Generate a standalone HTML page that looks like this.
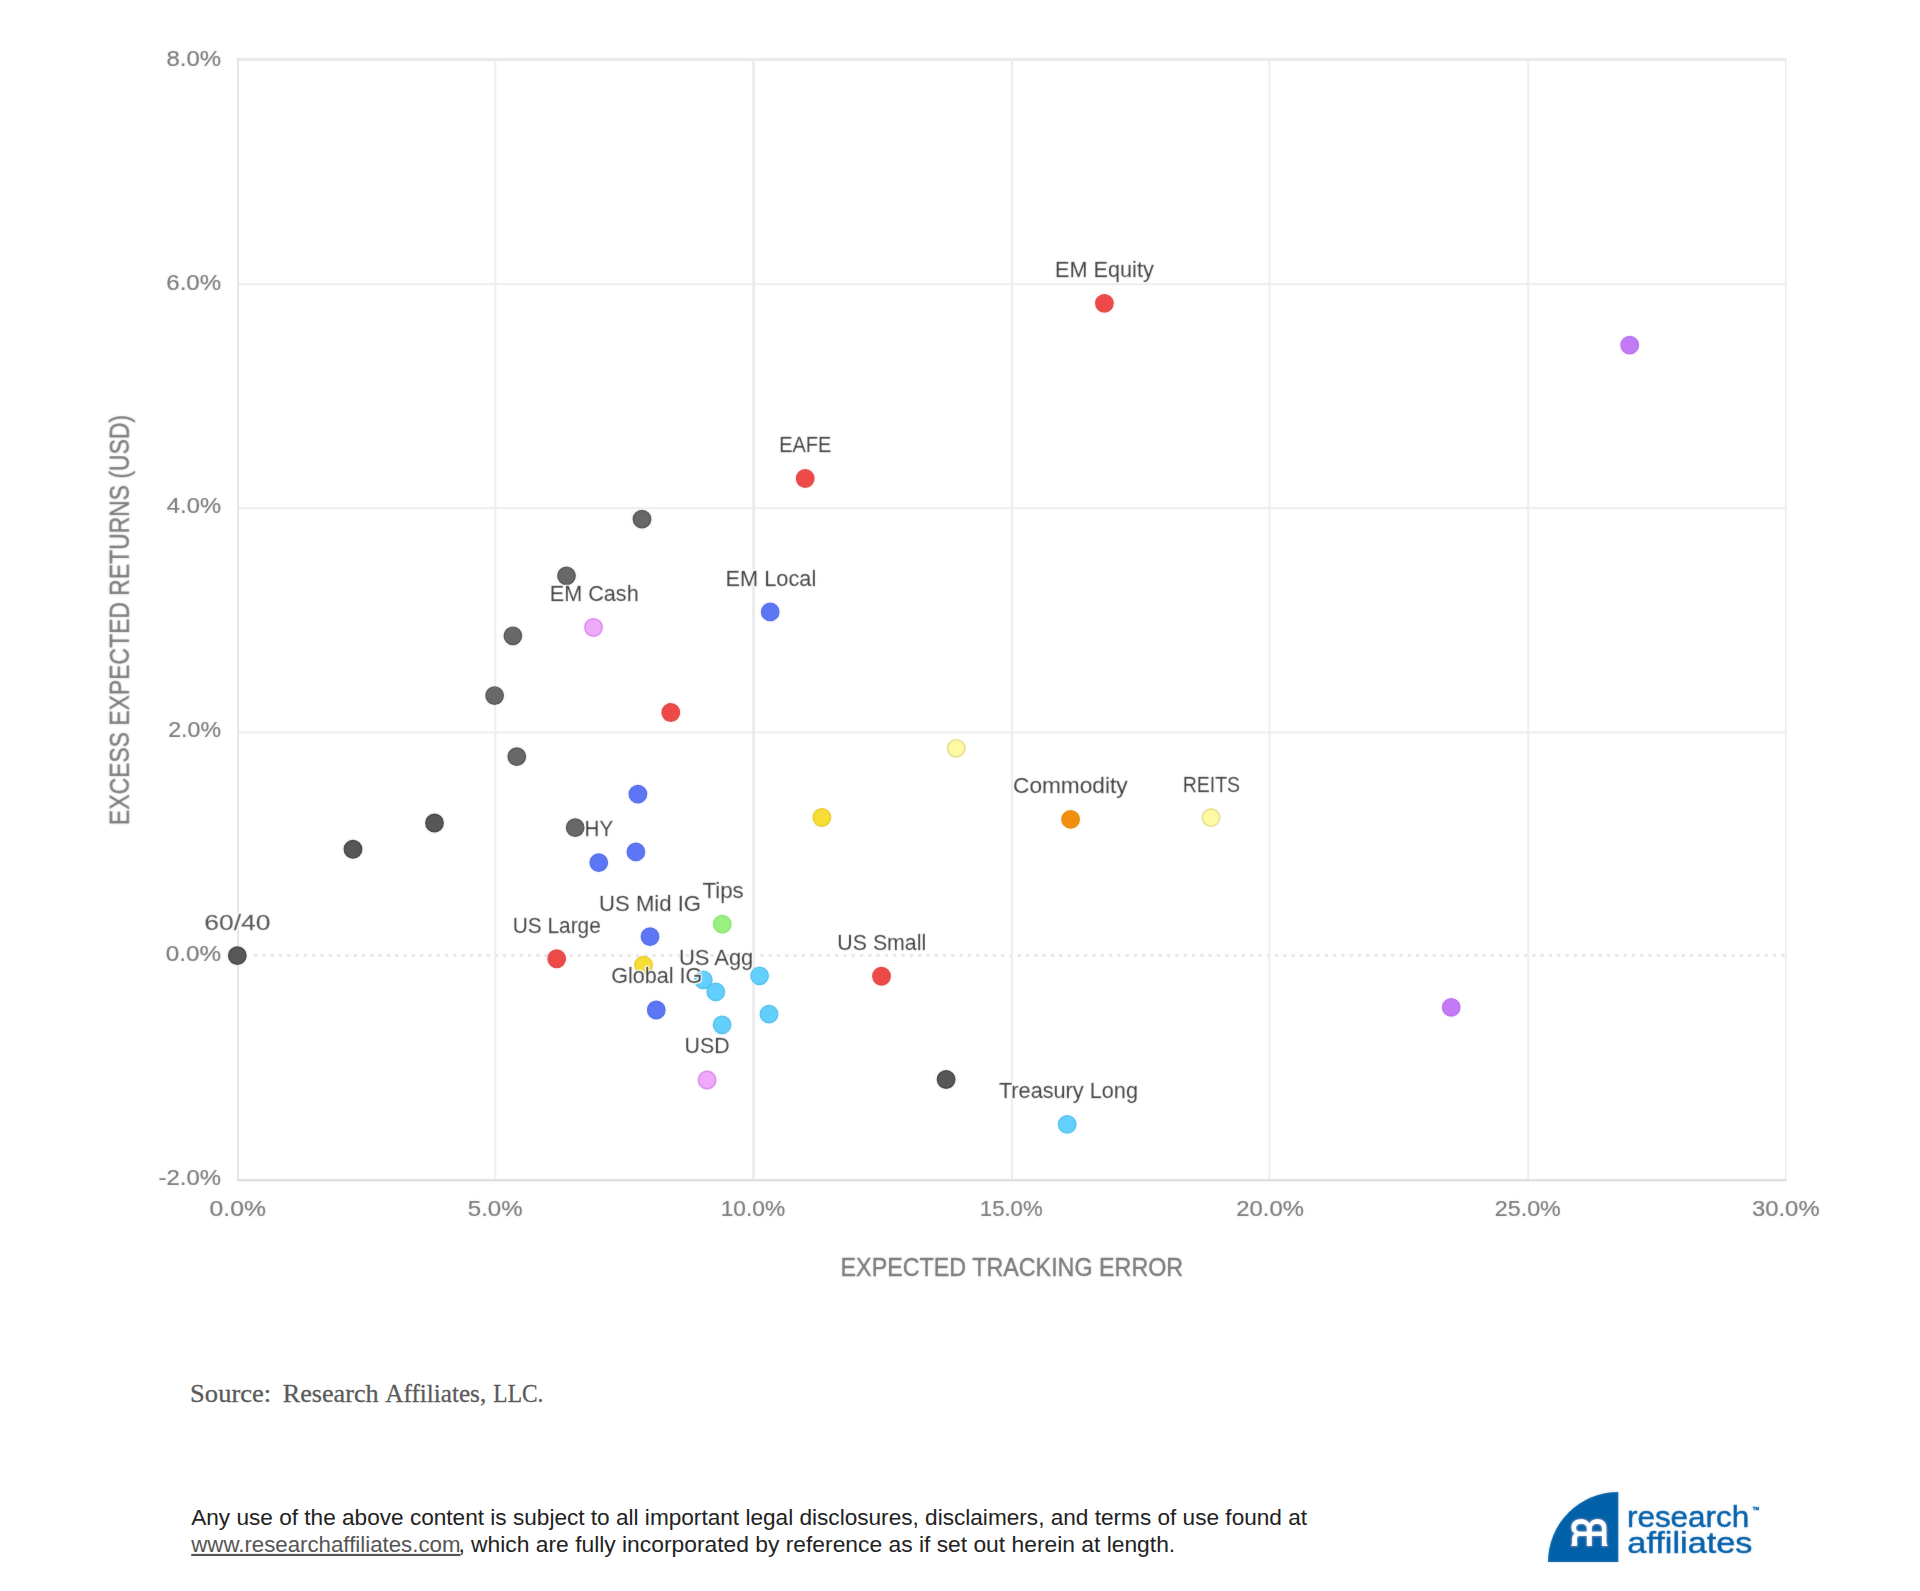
<!DOCTYPE html>
<html><head><meta charset="utf-8"><title>Excess Expected Returns vs Expected Tracking Error</title>
<style>html,body{margin:0;padding:0;background:#fff}svg{display:block}text{white-space:pre}</style>
</head><body>
<svg width="1920" height="1591" viewBox="0 0 1920 1591">
<rect width="1920" height="1591" fill="#fff"/>
<defs>
<filter id="halo" x="-10%" y="-40%" width="120%" height="180%"><feMorphology in="SourceAlpha" operator="dilate" radius="1" result="d"/><feFlood flood-color="#fff"/><feComposite in2="d" operator="in" result="h"/><feMerge><feMergeNode in="h"/><feMergeNode in="SourceGraphic"/></feMerge></filter>
<filter id="soft" filterUnits="userSpaceOnUse" x="0" y="0" width="1920" height="1340"><feGaussianBlur stdDeviation="0.8" result="b"/><feComposite in="SourceGraphic" in2="b" operator="arithmetic" k1="0" k2="0.75" k3="0.25" k4="0"/></filter>
<filter id="soft2" filterUnits="userSpaceOnUse" x="1500" y="1460" width="420" height="131"><feGaussianBlur stdDeviation="0.8" result="b"/><feComposite in="SourceGraphic" in2="b" operator="arithmetic" k1="0" k2="0.75" k3="0.25" k4="0"/></filter>
</defs>
<g id="chart" filter="url(#soft)">
<g id="grid">
<rect x="237" y="58" width="1549.4" height="3" fill="#e9e9e9"/>
<rect x="238" y="283.3" width="1548" height="1.8" fill="#ebebeb"/>
<rect x="238" y="507.3" width="1548" height="1.8" fill="#ebebeb"/>
<rect x="238" y="731.5" width="1548" height="1.8" fill="#ebebeb"/>
<line x1="254" y1="955.5" x2="1786" y2="955.5" stroke="#e6e6e6" stroke-width="3" stroke-dasharray="3.3 5"/>
<rect x="494.5" y="59" width="1.7" height="1121" fill="#ececec"/>
<rect x="752.1" y="59" width="3" height="1121" fill="#ececec"/>
<rect x="1011" y="59" width="2" height="1121" fill="#ececec"/>
<rect x="1268.6" y="59" width="1.7" height="1121" fill="#ececec"/>
<rect x="1527.3" y="59" width="1.8" height="1121" fill="#ececec"/>
<rect x="1785" y="59" width="1.5" height="1122" fill="#ececec"/>
<rect x="237.3" y="58" width="1.5" height="1123" fill="#dcdcdc"/>
<rect x="237" y="1178.8" width="1549.2" height="1" fill="#f0f0f0"/>
<rect x="237" y="1179.6" width="1549.2" height="1.6" fill="#d4d4d4"/>
</g>
<g id="dots">
<circle cx="237.3" cy="955.7" r="8.7" fill="#585756" stroke="#3e3e3e" stroke-width="1.4"/>
<circle cx="353" cy="849.25" r="8.7" fill="#585756" stroke="#3e3e3e" stroke-width="1.4"/>
<circle cx="434.5" cy="823" r="8.7" fill="#585756" stroke="#3e3e3e" stroke-width="1.4"/>
<circle cx="494.6" cy="695.6" r="8.7" fill="#686868" stroke="#4e4e4e" stroke-width="1.4"/>
<circle cx="512.9" cy="635.8" r="8.7" fill="#686868" stroke="#4e4e4e" stroke-width="1.4"/>
<circle cx="516.8" cy="756.7" r="8.7" fill="#686868" stroke="#4e4e4e" stroke-width="1.4"/>
<circle cx="566.5" cy="575.8" r="8.7" fill="#686868" stroke="#4e4e4e" stroke-width="1.4"/>
<circle cx="575.2" cy="827.7" r="8.7" fill="#686868" stroke="#4e4e4e" stroke-width="1.4"/>
<circle cx="642" cy="519.2" r="8.7" fill="#686868" stroke="#4e4e4e" stroke-width="1.4"/>
<circle cx="946.1" cy="1079.5" r="8.7" fill="#585756" stroke="#3e3e3e" stroke-width="1.4"/>
<circle cx="593.5" cy="627.5" r="8.7" fill="#eeaaf8" stroke="#d880f2" stroke-width="1.4"/>
<circle cx="707.1" cy="1080" r="8.7" fill="#eeaaf8" stroke="#d880f2" stroke-width="1.4"/>
<circle cx="770.2" cy="611.9" r="8.7" fill="#5c76f6" stroke="#5068e8" stroke-width="1.4"/>
<circle cx="637.9" cy="794.1" r="8.7" fill="#5c76f6" stroke="#5068e8" stroke-width="1.4"/>
<circle cx="635.9" cy="851.9" r="8.7" fill="#5c76f6" stroke="#5068e8" stroke-width="1.4"/>
<circle cx="598.75" cy="862.7" r="8.7" fill="#5c76f6" stroke="#5068e8" stroke-width="1.4"/>
<circle cx="650" cy="936.7" r="8.7" fill="#5c76f6" stroke="#5068e8" stroke-width="1.4"/>
<circle cx="656.25" cy="1010" r="8.7" fill="#5c76f6" stroke="#5068e8" stroke-width="1.4"/>
<circle cx="805.2" cy="478.5" r="8.7" fill="#ee4a4a" stroke="#e04040" stroke-width="1.4"/>
<circle cx="670.8" cy="712.5" r="8.7" fill="#ee4a4a" stroke="#e04040" stroke-width="1.4"/>
<circle cx="556.7" cy="958.75" r="8.7" fill="#ee4a4a" stroke="#e04040" stroke-width="1.4"/>
<circle cx="881.5" cy="976.25" r="8.7" fill="#ee4a4a" stroke="#e04040" stroke-width="1.4"/>
<circle cx="1104.4" cy="303.3" r="8.7" fill="#ee4a4a" stroke="#e04040" stroke-width="1.4"/>
<circle cx="722.3" cy="924.2" r="8.7" fill="#98f080" stroke="#8ce474" stroke-width="1.4"/>
<circle cx="643.5" cy="965.2" r="8.7" fill="#f6de34" stroke="#e6c828" stroke-width="1.4"/>
<circle cx="821.9" cy="817.5" r="8.7" fill="#f6de34" stroke="#e6c828" stroke-width="1.4"/>
<circle cx="703.3" cy="979.8" r="8.7" fill="#62d0fc" stroke="#50bef0" stroke-width="1.4"/>
<circle cx="715.8" cy="991.9" r="8.7" fill="#62d0fc" stroke="#50bef0" stroke-width="1.4"/>
<circle cx="759.6" cy="975.8" r="8.7" fill="#62d0fc" stroke="#50bef0" stroke-width="1.4"/>
<circle cx="722.1" cy="1024.8" r="8.7" fill="#62d0fc" stroke="#50bef0" stroke-width="1.4"/>
<circle cx="769" cy="1014.2" r="8.7" fill="#62d0fc" stroke="#50bef0" stroke-width="1.4"/>
<circle cx="1067.2" cy="1124.4" r="8.7" fill="#62d0fc" stroke="#50bef0" stroke-width="1.4"/>
<circle cx="956.25" cy="748.3" r="8.7" fill="#fdfaa2" stroke="#e2d884" stroke-width="1.4"/>
<circle cx="1211" cy="817.7" r="8.7" fill="#fdfaa2" stroke="#e2d884" stroke-width="1.4"/>
<circle cx="1070.6" cy="819.4" r="8.7" fill="#f0900a" stroke="#e88600" stroke-width="1.4"/>
<circle cx="1629.7" cy="345.2" r="8.7" fill="#c47af5" stroke="#b46cec" stroke-width="1.4"/>
<circle cx="1451.2" cy="1007.3" r="8.7" fill="#c47af5" stroke="#b46cec" stroke-width="1.4"/>
</g>
<g id="labels">
<text x="204.26" y="930.00" font-family="'Liberation Sans', sans-serif" font-size="22.4" fill="#484848" textLength="66.18" lengthAdjust="spacingAndGlyphs" stroke="#484848" stroke-width="0.3" filter="url(#halo)" xml:space="preserve">60/40</text>
<text x="549.72" y="601.30" font-family="'Liberation Sans', sans-serif" font-size="22.4" fill="#202020" textLength="88.98" lengthAdjust="spacingAndGlyphs" stroke="#202020" stroke-width="0.3" filter="url(#halo)" xml:space="preserve">EM Cash</text>
<text x="725.51" y="586.30" font-family="'Liberation Sans', sans-serif" font-size="22.4" fill="#202020" textLength="90.74" lengthAdjust="spacingAndGlyphs" stroke="#202020" stroke-width="0.3" filter="url(#halo)" xml:space="preserve">EM Local</text>
<text x="584.56" y="835.65" font-family="'Liberation Sans', sans-serif" font-size="22.4" fill="#202020" textLength="28.59" lengthAdjust="spacingAndGlyphs" stroke="#202020" stroke-width="0.3" filter="url(#halo)" xml:space="preserve">HY</text>
<text x="702.40" y="898.15" font-family="'Liberation Sans', sans-serif" font-size="22.4" fill="#202020" textLength="41.31" lengthAdjust="spacingAndGlyphs" stroke="#202020" stroke-width="0.3" filter="url(#halo)" xml:space="preserve">Tips</text>
<text x="599.09" y="910.65" font-family="'Liberation Sans', sans-serif" font-size="22.4" fill="#202020" textLength="101.96" lengthAdjust="spacingAndGlyphs" stroke="#202020" stroke-width="0.3" filter="url(#halo)" xml:space="preserve">US Mid IG</text>
<text x="512.79" y="933.15" font-family="'Liberation Sans', sans-serif" font-size="22.4" fill="#202020" textLength="87.93" lengthAdjust="spacingAndGlyphs" stroke="#202020" stroke-width="0.3" filter="url(#halo)" xml:space="preserve">US Large</text>
<text x="678.93" y="964.80" font-family="'Liberation Sans', sans-serif" font-size="22.4" fill="#202020" textLength="74.36" lengthAdjust="spacingAndGlyphs" stroke="#202020" stroke-width="0.3" filter="url(#halo)" xml:space="preserve">US Agg</text>
<text x="611.21" y="982.90" font-family="'Liberation Sans', sans-serif" font-size="22.4" fill="#202020" textLength="91.20" lengthAdjust="spacingAndGlyphs" stroke="#202020" stroke-width="0.3" filter="url(#halo)" xml:space="preserve">Global IG</text>
<text x="684.61" y="1053.40" font-family="'Liberation Sans', sans-serif" font-size="22.4" fill="#202020" textLength="44.91" lengthAdjust="spacingAndGlyphs" stroke="#202020" stroke-width="0.3" filter="url(#halo)" xml:space="preserve">USD</text>
<text x="837.35" y="949.60" font-family="'Liberation Sans', sans-serif" font-size="22.4" fill="#202020" textLength="88.87" lengthAdjust="spacingAndGlyphs" stroke="#202020" stroke-width="0.3" filter="url(#halo)" xml:space="preserve">US Small</text>
<text x="1013.05" y="793.15" font-family="'Liberation Sans', sans-serif" font-size="22.4" fill="#202020" textLength="114.49" lengthAdjust="spacingAndGlyphs" stroke="#202020" stroke-width="0.3" filter="url(#halo)" xml:space="preserve">Commodity</text>
<text x="1182.80" y="791.70" font-family="'Liberation Sans', sans-serif" font-size="22.4" fill="#202020" textLength="57.29" lengthAdjust="spacingAndGlyphs" stroke="#202020" stroke-width="0.3" filter="url(#halo)" xml:space="preserve">REITS</text>
<text x="1055.12" y="276.90" font-family="'Liberation Sans', sans-serif" font-size="22.4" fill="#202020" textLength="98.67" lengthAdjust="spacingAndGlyphs" stroke="#202020" stroke-width="0.3" filter="url(#halo)" xml:space="preserve">EM Equity</text>
<text x="779.16" y="452.30" font-family="'Liberation Sans', sans-serif" font-size="22.4" fill="#202020" textLength="52.09" lengthAdjust="spacingAndGlyphs" stroke="#202020" stroke-width="0.3" filter="url(#halo)" xml:space="preserve">EAFE</text>
<text x="998.91" y="1098.15" font-family="'Liberation Sans', sans-serif" font-size="22.4" fill="#202020" textLength="139.09" lengthAdjust="spacingAndGlyphs" stroke="#202020" stroke-width="0.3" filter="url(#halo)" xml:space="preserve">Treasury Long</text>
<text x="166.46" y="65.50" font-family="'Liberation Sans', sans-serif" font-size="22.5" fill="#7a7a7a" textLength="54.59" lengthAdjust="spacingAndGlyphs" stroke="#7a7a7a" stroke-width="0.2" xml:space="preserve">8.0%</text>
<text x="166.28" y="289.80" font-family="'Liberation Sans', sans-serif" font-size="22.5" fill="#7a7a7a" textLength="54.78" lengthAdjust="spacingAndGlyphs" stroke="#7a7a7a" stroke-width="0.2" xml:space="preserve">6.0%</text>
<text x="166.85" y="513.40" font-family="'Liberation Sans', sans-serif" font-size="22.5" fill="#7a7a7a" textLength="54.19" lengthAdjust="spacingAndGlyphs" stroke="#7a7a7a" stroke-width="0.2" xml:space="preserve">4.0%</text>
<text x="168.24" y="737.40" font-family="'Liberation Sans', sans-serif" font-size="22.5" fill="#7a7a7a" textLength="52.79" lengthAdjust="spacingAndGlyphs" stroke="#7a7a7a" stroke-width="0.2" xml:space="preserve">2.0%</text>
<text x="165.85" y="961.30" font-family="'Liberation Sans', sans-serif" font-size="22.5" fill="#7a7a7a" textLength="55.21" lengthAdjust="spacingAndGlyphs" stroke="#7a7a7a" stroke-width="0.2" xml:space="preserve">0.0%</text>
<text x="158.64" y="1185.00" font-family="'Liberation Sans', sans-serif" font-size="22.5" fill="#7a7a7a" textLength="62.41" lengthAdjust="spacingAndGlyphs" stroke="#7a7a7a" stroke-width="0.2" xml:space="preserve">-2.0%</text>
<text x="209.63" y="1216.40" font-family="'Liberation Sans', sans-serif" font-size="22.5" fill="#7a7a7a" textLength="56.35" lengthAdjust="spacingAndGlyphs" stroke="#7a7a7a" stroke-width="0.2" xml:space="preserve">0.0%</text>
<text x="467.74" y="1216.40" font-family="'Liberation Sans', sans-serif" font-size="22.5" fill="#7a7a7a" textLength="54.92" lengthAdjust="spacingAndGlyphs" stroke="#7a7a7a" stroke-width="0.2" xml:space="preserve">5.0%</text>
<text x="720.67" y="1216.40" font-family="'Liberation Sans', sans-serif" font-size="22.5" fill="#7a7a7a" textLength="64.44" lengthAdjust="spacingAndGlyphs" stroke="#7a7a7a" stroke-width="0.2" xml:space="preserve">10.0%</text>
<text x="979.81" y="1216.40" font-family="'Liberation Sans', sans-serif" font-size="22.5" fill="#7a7a7a" textLength="62.88" lengthAdjust="spacingAndGlyphs" stroke="#7a7a7a" stroke-width="0.2" xml:space="preserve">15.0%</text>
<text x="1236.30" y="1216.40" font-family="'Liberation Sans', sans-serif" font-size="22.5" fill="#7a7a7a" textLength="67.65" lengthAdjust="spacingAndGlyphs" stroke="#7a7a7a" stroke-width="0.2" xml:space="preserve">20.0%</text>
<text x="1494.83" y="1216.40" font-family="'Liberation Sans', sans-serif" font-size="22.5" fill="#7a7a7a" textLength="66.00" lengthAdjust="spacingAndGlyphs" stroke="#7a7a7a" stroke-width="0.2" xml:space="preserve">25.0%</text>
<text x="1751.99" y="1216.40" font-family="'Liberation Sans', sans-serif" font-size="22.5" fill="#7a7a7a" textLength="67.61" lengthAdjust="spacingAndGlyphs" stroke="#7a7a7a" stroke-width="0.2" xml:space="preserve">30.0%</text>
<text x="840.59" y="1275.50" font-family="'Liberation Sans', sans-serif" font-size="25.5" fill="#7a7a7a" textLength="342.59" lengthAdjust="spacingAndGlyphs" stroke="#7a7a7a" stroke-width="0.4" xml:space="preserve">EXPECTED TRACKING ERROR</text>
<text transform="translate(128.8,823.1) rotate(-90)" x="-1.88" y="0" font-family="'Liberation Sans', sans-serif" font-size="27.4" fill="#7a7a7a" textLength="410.00" lengthAdjust="spacingAndGlyphs" stroke="#7a7a7a" stroke-width="0.4" xml:space="preserve">EXCESS EXPECTED RETURNS (USD)</text>
</g>
</g>
<g id="brand" filter="url(#soft2)">

<path d="M1618.3 1492 A70.3 70 0 0 0 1548 1562 L1618.3 1562 Z" fill="#0061a8"/>
<g transform="translate(1560,1510) scale(0.03125)">
<path fill="#fff" fill-rule="evenodd" d="M350,1150 L550,1150 L550,920 Q550,830 640,830 L855,830 L855,1150 L1020,1150 L1020,830 L1340,830 L1340,1150 L1535,1150 Q1490,1110 1490,1040 L1490,560 C1490,400 1370,290 1200,290 C1090,290 1000,340 940,420 C880,340 790,290 680,290 C490,290 360,400 360,560 C360,660 400,720 470,750 C420,780 385,840 385,920 L385,1040 Q385,1110 350,1150 Z
M855,690 L640,690 C560,690 520,640 520,575 C520,500 580,450 680,450 C790,450 855,510 855,600 Z
M1020,690 L1020,600 C1020,510 1080,450 1180,450 C1280,450 1340,510 1340,600 L1340,690 Z"/>
</g>

<text x="1626.91" y="1526.80" font-family="'Liberation Sans', sans-serif" font-size="30" fill="#005ea8" textLength="122.43" lengthAdjust="spacingAndGlyphs" stroke="#005ea8" stroke-width="0.45" xml:space="preserve">research</text>
<text x="1627.34" y="1553.40" font-family="'Liberation Sans', sans-serif" font-size="30" fill="#005ea8" textLength="125.09" lengthAdjust="spacingAndGlyphs" stroke="#005ea8" stroke-width="0.45" xml:space="preserve">affiliates</text>
<text x="1752.70" y="1510.20" font-family="'Liberation Sans', sans-serif" font-size="3.8" fill="#005ea8" textLength="6.36" lengthAdjust="spacingAndGlyphs" stroke="#005ea8" stroke-width="0.45" xml:space="preserve">TM</text>
</g>
<g id="foot">
<text y="1402.1" font-family="'Liberation Serif', serif" font-size="25.5" fill="#5a5a5a" stroke="#5a5a5a" stroke-width="0.3" xml:space="preserve"><tspan x="190.13" textLength="81.02" lengthAdjust="spacingAndGlyphs">Source:</tspan>  <tspan x="282.75" textLength="95.90" lengthAdjust="spacingAndGlyphs">Research</tspan> <tspan x="385.35" textLength="100.83" lengthAdjust="spacingAndGlyphs">Affiliates,</tspan> <tspan x="493.32" textLength="50.12" lengthAdjust="spacingAndGlyphs">LLC.</tspan></text>
<text x="191.21" y="1524.60" font-family="'Liberation Sans', sans-serif" font-size="21.5" fill="#222" textLength="1115.86" lengthAdjust="spacingAndGlyphs" xml:space="preserve">Any use of the above content is subject to all important legal disclosures, disclaimers, and terms of use found at</text>
<text x="191.28" y="1551.90" font-family="'Liberation Sans', sans-serif" font-size="21.5" fill="#555" textLength="269.18" lengthAdjust="spacingAndGlyphs" text-decoration="underline" xml:space="preserve">www.researchaffiliates.com</text>
<text x="458.45" y="1551.90" font-family="'Liberation Sans', sans-serif" font-size="21.5" fill="#222" textLength="716.73" lengthAdjust="spacingAndGlyphs" xml:space="preserve">, which are fully incorporated by reference as if set out herein at length.</text>
</g>
</svg>
</body></html>
